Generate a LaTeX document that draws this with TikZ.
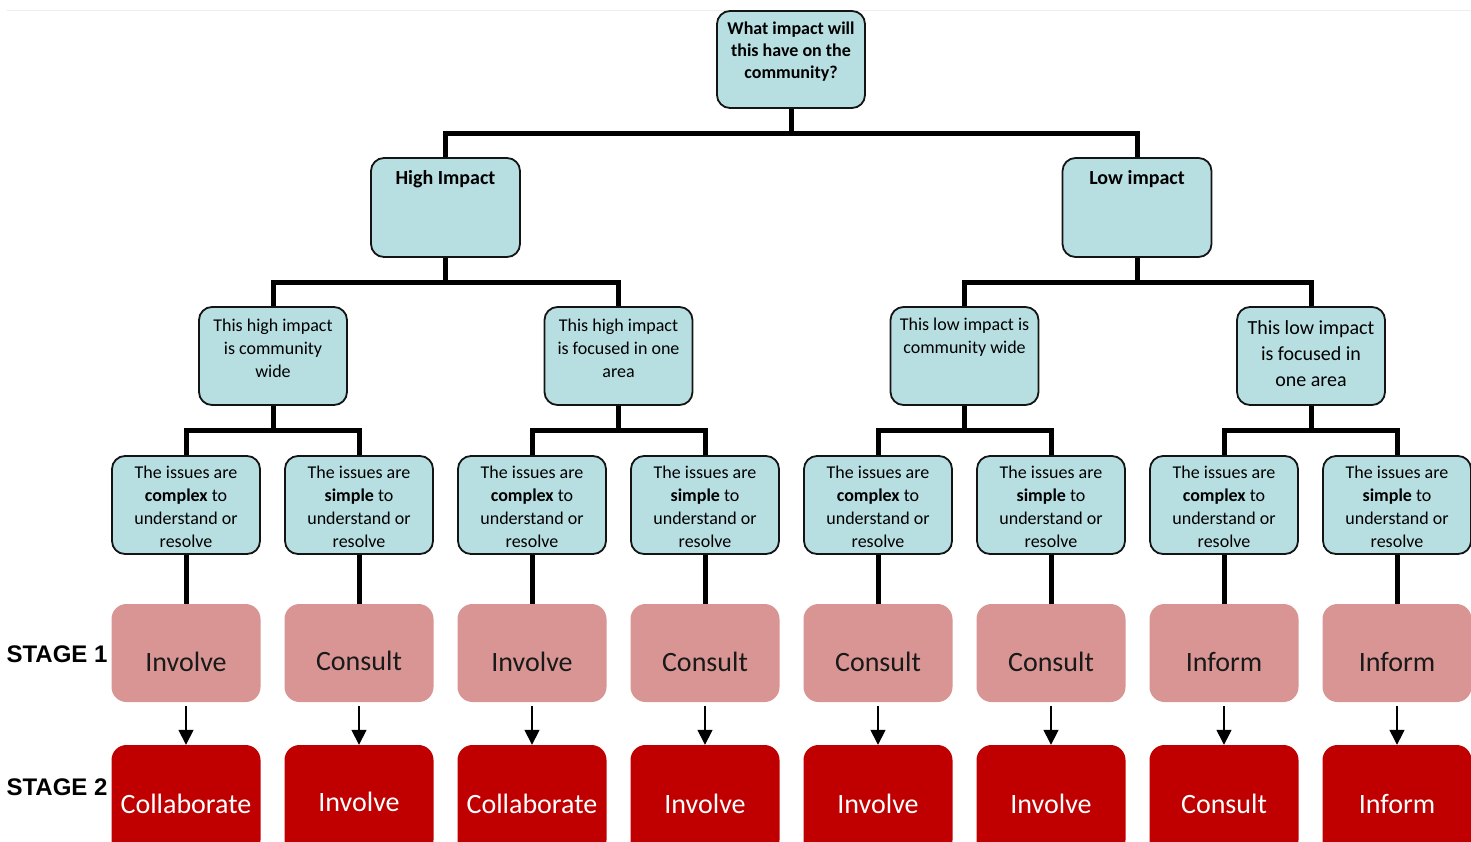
\documentclass[tikz,border=0pt]{standalone}
\usepackage{fontspec}
\setmainfont{Carlito}
\newfontfamily\stagefont{Liberation Sans}
\usetikzlibrary{arrows.meta}
\definecolor{boxblue}{RGB}{183,222,225}
\definecolor{stagepink}{RGB}{217,149,148}
\definecolor{stagered}{RGB}{192,0,0}
\definecolor{edgecol}{RGB}{20,20,20}
\newcommand{\issue}[1]{The issues are\\\textbf{#1} to\\understand or\\resolve}
\begin{document}
\begin{tikzpicture}[x=1pt,y=-1pt,
  qbox/.style={draw=edgecol,line width=1.8pt,fill=boxblue,rounded corners=13pt,inner sep=0pt,
    minimum width=148pt,minimum height=98pt},
  lab/.style={align=center,inner sep=0pt},
  ibox/.style={qbox,label={[lab,font=\fontsize{18}{23}\selectfont,yshift=-2pt]center:{\issue{#1}}}},
  s1box/.style={fill=stagepink,rounded corners=15pt,minimum width=149pt,minimum height=98pt,inner sep=0pt},
  s2box/.style={fill=stagered,rounded corners=15pt,minimum width=149pt,minimum height=110pt,inner sep=0pt},
  s1lab/.style={inner sep=0pt,font=\fontsize{28}{32}\selectfont,text=black!90},
  s2lab/.style={inner sep=0pt,font=\fontsize{28}{32}\selectfont,text=white},
  bar/.style={line width=5pt,line join=miter,draw=black},
  arr/.style={line width=1.5pt,-{Triangle[width=15pt,length=15pt]},shorten <=4pt},
  stagelab/.style={inner sep=0pt,font=\stagefont\bfseries\fontsize{24}{27}\selectfont}
]
\useasboundingbox (0,0) rectangle (1471,841);
\fill[white] (0,0) rectangle (1471,841);
\draw[black!7,line width=1pt] (7,10) -- (1471,10);

% top
\node[qbox,minimum width=148pt,minimum height=97pt,
  label={[lab,font=\bfseries\fontsize{18}{22}\selectfont,yshift=7.5pt]center:{What impact will\\this have on the\\community?}}]
  (top) at (791,59.5) {};

% level 2
\node[qbox,minimum width=149pt,minimum height=99pt,
  label={[lab,font=\bfseries\fontsize{20}{24}\selectfont,yshift=28pt]center:{High Impact}}]
  (hi) at (445.5,207.5) {};
\node[qbox,minimum width=149pt,minimum height=99pt,
  label={[lab,font=\bfseries\fontsize{20}{24}\selectfont,yshift=28pt]center:{Low impact}}]
  (lo) at (1137,207.5) {};

% level 3
\node[qbox,label={[lab,font=\fontsize{18}{23}\selectfont,yshift=8pt]center:{This high impact\\is community\\wide}}]
  (hc) at (273,356) {};
\node[qbox,label={[lab,font=\fontsize{18}{23}\selectfont,yshift=8pt]center:{This high impact\\is focused in one\\area}}]
  (hf) at (618.5,356) {};
\node[qbox,label={[lab,font=\fontsize{18}{23}\selectfont,yshift=19pt]center:{This low impact is\\community wide}}]
  (lc) at (964.5,356) {};
\node[qbox,label={[lab,font=\fontsize{20}{26}\selectfont,yshift=2pt]center:{This low impact\\is focused in\\one area}}]
  (lf) at (1311,356) {};

% level 4
\node[ibox=complex] (a1) at (186,505) {};
\node[ibox=simple]  (a2) at (359,505) {};
\node[ibox=complex] (a3) at (532,505) {};
\node[ibox=simple]  (a4) at (705,505) {};
\node[ibox=complex] (a5) at (878,505) {};
\node[ibox=simple]  (a6) at (1051,505) {};
\node[ibox=complex] (a7) at (1224,505) {};
\node[ibox=simple]  (a8) at (1397,505) {};

% stage 1
\node[s1box,label={[s1lab,yshift=-9pt]center:Involve}] (p1) at (186,653) {};
\node[s1box,label={[s1lab,yshift=-8pt]center:Consult}] (p2) at (359,653) {};
\node[s1box,label={[s1lab,yshift=-9pt]center:Involve}] (p3) at (532,653) {};
\node[s1box,label={[s1lab,yshift=-9pt]center:Consult}] (p4) at (705,653) {};
\node[s1box,label={[s1lab,yshift=-9pt]center:Consult}] (p5) at (878,653) {};
\node[s1box,label={[s1lab,yshift=-9pt]center:Consult}] (p6) at (1051,653) {};
\node[s1box,label={[s1lab,yshift=-9pt]center:Inform}] (p7) at (1224,653) {};
\node[s1box,label={[s1lab,yshift=-9pt]center:Inform}] (p8) at (1397,653) {};

% stage 2
\node[s2box,label={[s2lab,yshift=-4pt]center:Collaborate}] (r1) at (186,800) {};
\node[s2box,label={[s2lab,yshift=-2pt]center:Involve}] (r2) at (359,800) {};
\node[s2box,label={[s2lab,yshift=-4pt]center:Collaborate}] (r3) at (532,800) {};
\node[s2box,label={[s2lab,yshift=-4pt]center:Involve}] (r4) at (705,800) {};
\node[s2box,label={[s2lab,yshift=-4pt]center:Involve}] (r5) at (878,800) {};
\node[s2box,label={[s2lab,yshift=-4pt]center:Involve}] (r6) at (1051,800) {};
\node[s2box,label={[s2lab,yshift=-4pt]center:Consult}] (r7) at (1224,800) {};
\node[s2box,label={[s2lab,yshift=-4pt]center:Inform}] (r8) at (1397,800) {};

% stage labels
\node[stagelab] (st1) at (57,654) {STAGE 1};
\node[stagelab] (st2) at (57,787) {STAGE 2};

% tree connectors
\draw[bar] (top.south) -- ++(0,25) -| (hi.north);
\draw[bar] (top.south) -- ++(0,25) -| (lo.north);
\draw[bar] (hi.south) -- ++(0,25) -| (hc.north);
\draw[bar] (hi.south) -- ++(0,25) -| (hf.north);
\draw[bar] (lo.south) -- ++(0,25) -| (lc.north);
\draw[bar] (lo.south) -- ++(0,25) -| (lf.north);
\draw[bar] (hc.south) -- ++(0,25) -| (a1.north);
\draw[bar] (hc.south) -- ++(0,25) -| (a2.north);
\draw[bar] (hf.south) -- ++(0,25) -| (a3.north);
\draw[bar] (hf.south) -- ++(0,25) -| (a4.north);
\draw[bar] (lc.south) -- ++(0,25) -| (a5.north);
\draw[bar] (lc.south) -- ++(0,25) -| (a6.north);
\draw[bar] (lf.south) -- ++(0,25) -| (a7.north);
\draw[bar] (lf.south) -- ++(0,25) -| (a8.north);

\foreach \i in {1,...,8}{
  \draw[bar] (a\i.south) -- (p\i.north);
  \draw[arr] (p\i.south) -- (r\i.north);
}
\end{tikzpicture}
\end{document}
